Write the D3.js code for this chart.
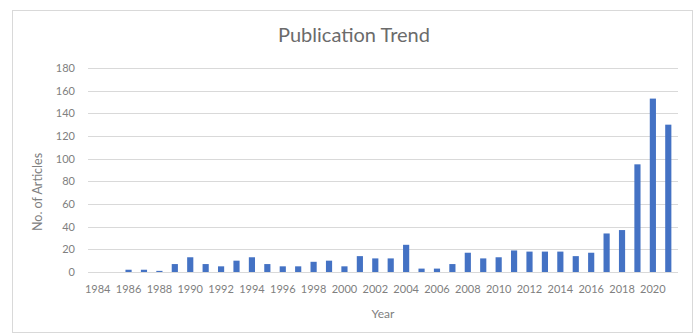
<!DOCTYPE html>
<html><head><meta charset="utf-8">
<script src="https://cdn.jsdelivr.net/npm/d3@7"></script>
<style>body{margin:0;background:#fff}svg{display:block}</style>
</head><body>
<script>
const years = d3.range(1984, 2022).map(String);
const counts = [0,0,2,2,1,7,13,7,5,10,13,7,5,5,9,10,5,14,12,12,24,3,3,7,17,12,13,19,18,18,18,14,17,34,37,95,153,130];
const yTicks = [0,20,40,60,80,100,120,140,160,180];
const xTickLabels = years.filter((d,i)=>i%2===0);
const title = "Publication Trend";
const xTitle = "Year";
const yTitle = "No. of Articles";

const W=699,H=335;
const svg=d3.select("body").append("svg").attr("width",W).attr("height",H);
const font="Lato, 'Open Sans', sans-serif";
svg.append("rect").attr("x",12.5).attr("y",10.5).attr("width",680).attr("height",322).attr("fill","#fff").attr("stroke","#d9d9d9");

const x=d3.scaleBand().domain(years).range([90,676]).paddingInner(0.6).paddingOuter(0.3);
const y=d3.scaleLinear().domain([0,180]).range([272,68]);

svg.append("g").selectAll("line").data(yTicks).join("line")
 .attr("x1",88).attr("x2",678).attr("y1",d=>Math.round(y(d))+0.5).attr("y2",d=>Math.round(y(d))+0.5)
 .attr("stroke","#d9d9d9").attr("stroke-width",1);

svg.append("g").selectAll("rect").data(years).join("rect")
 .attr("x",d=>x(d)).attr("width",x.bandwidth())
 .attr("y",(d,i)=>y(counts[i])).attr("height",(d,i)=>y(0)-y(counts[i]))
 .attr("fill","#4472c4");

const yAxis=svg.append("g").attr("transform","translate(77,0)")
 .call(d3.axisLeft(y).tickValues(yTicks).tickSize(0).tickPadding(2));
yAxis.select(".domain").remove();
yAxis.selectAll("text").attr("font-family",font).attr("font-size",11).attr("fill","#808080");

const xAxis=svg.append("g").attr("transform","translate(0,285)")
 .call(d3.axisBottom(x).tickValues(xTickLabels).tickSize(0).tickPadding(0));
xAxis.select(".domain").remove();
xAxis.selectAll("text").attr("font-family",font).attr("font-size",11).attr("fill","#808080");

svg.append("text").attr("x",354).attr("y",42).attr("text-anchor","middle")
 .attr("font-family",font).attr("font-size",20).attr("fill","#6b6b6b").text(title);
svg.append("text").attr("x",383).attr("y",318).attr("text-anchor","middle")
 .attr("font-family",font).attr("font-size",12).attr("fill","#808080").text(xTitle);
svg.append("text").attr("transform","translate(42,192) rotate(-90)").attr("text-anchor","middle")
 .attr("font-family",font).attr("font-size",12.5).attr("fill","#808080").text(yTitle);
</script>
</body></html>
